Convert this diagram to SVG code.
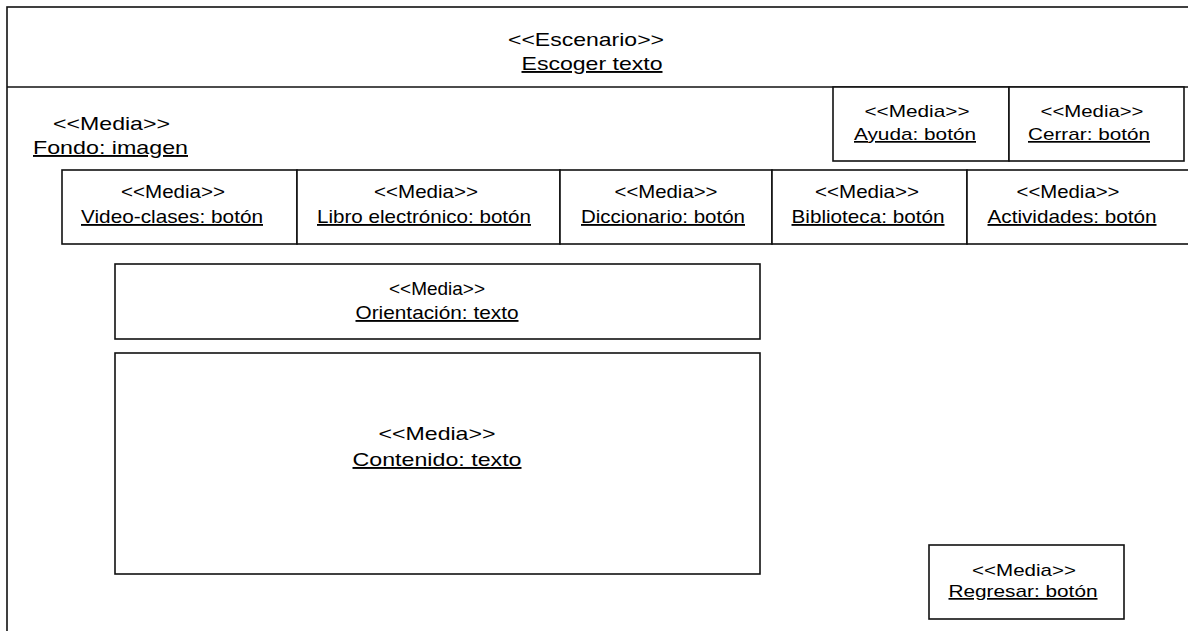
<svg xmlns="http://www.w3.org/2000/svg" width="1188" height="631" viewBox="0 0 1188 631">
  <style>
    .box { fill: #ffffff; stroke: #111111; stroke-width: 1.6; }
    .ln { stroke: #111111; stroke-width: 1.6; fill: none; }
    text { font-family: "Liberation Sans", Arial, sans-serif; fill: #000000; }
    .big { font-size: 19px; }
    .sm { font-size: 17px; }
    .nar { font-size: 18.5px; }
    .u { text-decoration: underline; }
    .c { text-anchor: middle; }
  </style>

  <rect width="1188" height="631" fill="#ffffff"/>

  <!-- scenario frame (continues past the right and bottom edges) -->
  <g id="escenario">
    <rect class="box" x="7" y="7" width="1200" height="640"/>
    <line class="ln" x1="7" y1="87" x2="1188" y2="87"/>
    <text class="big c" x="586" y="46" textLength="156" lengthAdjust="spacingAndGlyphs">&lt;&lt;Escenario&gt;&gt;</text>
    <text class="big c u" x="592" y="70" textLength="141" lengthAdjust="spacingAndGlyphs">Escoger texto</text>
  </g>

  <g id="fondo">
    <text class="big" x="53" y="130" textLength="117" lengthAdjust="spacingAndGlyphs">&lt;&lt;Media&gt;&gt;</text>
    <text class="big u" x="33" y="154" textLength="155" lengthAdjust="spacingAndGlyphs">Fondo: imagen</text>
  </g>

  <g id="ayuda">
    <rect class="box" x="833" y="87" width="176" height="74"/>
    <text class="sm c" x="917" y="117" textLength="105" lengthAdjust="spacingAndGlyphs">&lt;&lt;Media&gt;&gt;</text>
    <text class="sm c u" x="915" y="140" textLength="122" lengthAdjust="spacingAndGlyphs">Ayuda: botón</text>
  </g>

  <g id="cerrar">
    <rect class="box" x="1009" y="87" width="175" height="74"/>
    <text class="sm c" x="1092" y="117" textLength="103" lengthAdjust="spacingAndGlyphs">&lt;&lt;Media&gt;&gt;</text>
    <text class="sm c u" x="1089" y="140" textLength="122" lengthAdjust="spacingAndGlyphs">Cerrar: botón</text>
  </g>

  <!-- navigation button row -->
  <g id="video-clases">
    <rect class="box" x="62" y="170" width="235" height="74"/>
    <text class="nar c" x="173" y="198" textLength="104" lengthAdjust="spacingAndGlyphs">&lt;&lt;Media&gt;&gt;</text>
    <text class="nar c u" x="172" y="223" textLength="182" lengthAdjust="spacingAndGlyphs">Video-clases: botón</text>
  </g>

  <g id="libro">
    <rect class="box" x="297" y="170" width="263" height="74"/>
    <text class="nar c" x="426" y="198" textLength="104" lengthAdjust="spacingAndGlyphs">&lt;&lt;Media&gt;&gt;</text>
    <text class="nar c u" x="424" y="223" textLength="214" lengthAdjust="spacingAndGlyphs">Libro electrónico: botón</text>
  </g>

  <g id="diccionario">
    <rect class="box" x="560" y="170" width="212" height="74"/>
    <text class="nar c" x="666" y="198" textLength="103" lengthAdjust="spacingAndGlyphs">&lt;&lt;Media&gt;&gt;</text>
    <text class="nar c u" x="663" y="223" textLength="164" lengthAdjust="spacingAndGlyphs">Diccionario: botón</text>
  </g>

  <g id="biblioteca">
    <rect class="box" x="772" y="170" width="195" height="74"/>
    <text class="nar c" x="867" y="198" textLength="104" lengthAdjust="spacingAndGlyphs">&lt;&lt;Media&gt;&gt;</text>
    <text class="nar c u" x="868" y="223" textLength="153" lengthAdjust="spacingAndGlyphs">Biblioteca: botón</text>
  </g>

  <g id="actividades">
    <rect class="box" x="967" y="170" width="240" height="74"/>
    <text class="nar c" x="1068" y="198" textLength="103" lengthAdjust="spacingAndGlyphs">&lt;&lt;Media&gt;&gt;</text>
    <text class="nar c u" x="1072" y="223" textLength="169" lengthAdjust="spacingAndGlyphs">Actividades: botón</text>
  </g>

  <g id="orientacion">
    <rect class="box" x="115" y="264" width="645" height="75"/>
    <text class="nar c" x="437" y="295" textLength="96" lengthAdjust="spacingAndGlyphs">&lt;&lt;Media&gt;&gt;</text>
    <text class="nar c u" x="437" y="319" textLength="163" lengthAdjust="spacingAndGlyphs">Orientación: texto</text>
  </g>

  <g id="contenido">
    <rect class="box" x="115" y="353" width="645" height="221"/>
    <text class="big c" x="437" y="440" textLength="117" lengthAdjust="spacingAndGlyphs">&lt;&lt;Media&gt;&gt;</text>
    <text class="big c u" x="437" y="466" textLength="169" lengthAdjust="spacingAndGlyphs">Contenido: texto</text>
  </g>

  <g id="regresar">
    <rect class="box" x="929" y="545" width="195" height="74"/>
    <text class="sm c" x="1024" y="576" textLength="104" lengthAdjust="spacingAndGlyphs">&lt;&lt;Media&gt;&gt;</text>
    <text class="sm c u" x="1023" y="597" textLength="149" lengthAdjust="spacingAndGlyphs">Regresar: botón</text>
  </g>

  <g id="connectors"/>
</svg>
